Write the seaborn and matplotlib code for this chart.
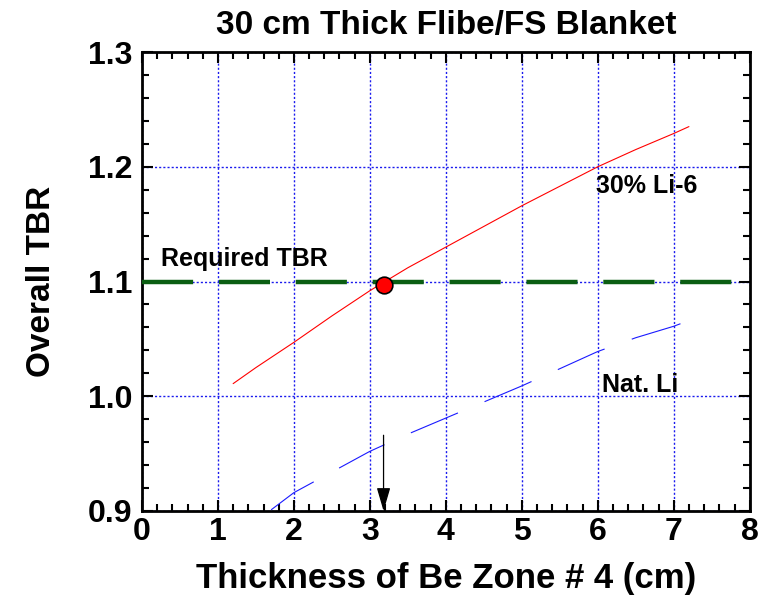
import matplotlib
matplotlib.use("Agg")
import matplotlib.pyplot as plt
import seaborn as sns
import pandas as pd
from matplotlib.ticker import MultipleLocator

# Data
li6_x = [1.2, 1.5, 2.0, 2.5, 3.0, 3.5, 4.0, 4.5, 5.0, 5.5, 6.0, 6.5, 7.0, 7.2]
li6_y = [1.011, 1.025, 1.047, 1.070, 1.092, 1.112, 1.130, 1.148, 1.166, 1.183, 1.200, 1.215, 1.229, 1.235]
nat_x = [1.7, 2.0, 2.5, 3.0, 3.5, 4.0, 4.5, 5.0, 5.5, 6.0, 6.5, 7.0, 7.2]
nat_y = [0.901, 0.916, 0.934, 0.952, 0.967, 0.981, 0.995, 1.009, 1.024, 1.039, 1.051, 1.061, 1.066]
required_tbr = 1.1
req_x = [0.0, 7.88]
design_x = 3.18
design_y = 1.097

sns.set_theme(style="white")
plt.rcParams['font.family'] = ['Liberation Sans', 'DejaVu Sans']
plt.rcParams['font.weight'] = 'bold'
plt.rcParams['text.color'] = 'black'
plt.rcParams['axes.labelcolor'] = 'black'
plt.rcParams['xtick.color'] = 'black'
plt.rcParams['ytick.color'] = 'black'

fig = plt.figure(figsize=(7.65, 5.98), dpi=100)
ax = fig.add_axes([0.1856, 0.1455, 0.7944, 0.7675])

df_li6 = pd.DataFrame({"x": li6_x, "y": li6_y})
df_nat = pd.DataFrame({"x": nat_x, "y": nat_y})
df_req = pd.DataFrame({"x": req_x, "y": [required_tbr] * len(req_x)})

sns.lineplot(data=df_req, x="x", y="y", ax=ax, color="#0b5e12", lw=3.2,
             sort=False, zorder=3)
ax.lines[-1].set_dashes([11.5, 5.8])
sns.lineplot(data=df_li6, x="x", y="y", ax=ax, color="red", lw=0.8, zorder=4)
sns.lineplot(data=df_nat, x="x", y="y", ax=ax, color="#1a1aff", lw=0.8, zorder=4)
ax.lines[-1].set_dashes([46, 26])

ax.plot([design_x], [design_y], marker="o", ms=12, mfc="red", mec="black",
        mew=1.2, zorder=6, ls="none")

ax.annotate("", xy=(design_x, 0.9), xytext=(design_x, 0.966),
            arrowprops=dict(arrowstyle="-|>,head_length=1.2,head_width=0.35",
                            color="black", lw=0.9, shrinkA=0, shrinkB=0), zorder=5)

ax.text(0.25, 1.12, "Required TBR", fontsize=18, fontweight="bold", ha="left", va="center")
ax.text(5.98, 1.183, "30% Li-6", fontsize=18, fontweight="bold", ha="left", va="center")
ax.text(6.05, 1.01, "Nat. Li", fontsize=18, fontweight="bold", ha="left", va="center")

ax.set_xlim(0, 8)
ax.set_ylim(0.9, 1.3)
ax.xaxis.set_minor_locator(MultipleLocator(0.2))
ax.yaxis.set_minor_locator(MultipleLocator(0.02))
ax.set_xticks(range(0, 9))
ax.set_xticklabels([str(v) for v in range(0, 9)])
ax.set_yticks([0.9, 1.0, 1.1, 1.2, 1.3])
ax.set_yticklabels(["0.9", "1.0", "1.1", "1.2", "1.3"])

ax.grid(True, which="major", color="#1a1aee", ls=(0, (1.5, 1.5)), lw=1.0)
ax.set_axisbelow(True)

ax.tick_params(which="both", direction="in", top=True, right=True, bottom=True, left=True,
               colors="black", labelsize=23, width=1.5)
ax.tick_params(axis="y", which="major", length=8, pad=7)
ax.tick_params(axis="x", which="major", length=8, pad=4)
ax.tick_params(which="minor", length=5)
for lab in ax.get_xticklabels() + ax.get_yticklabels():
    lab.set_fontweight("bold")
for s in ax.spines.values():
    s.set_color("black")
    s.set_linewidth(2)

ax.set_xlabel("Thickness of Be Zone # 4 (cm)", fontsize=25, fontweight="bold", labelpad=11)
ax.set_ylabel("Overall TBR", fontsize=24, fontweight="bold", labelpad=22)
ax.set_title("30 cm Thick Flibe/FS Blanket", fontsize=24, fontweight="bold", pad=13)

fig.savefig("out.png", dpi=100)
